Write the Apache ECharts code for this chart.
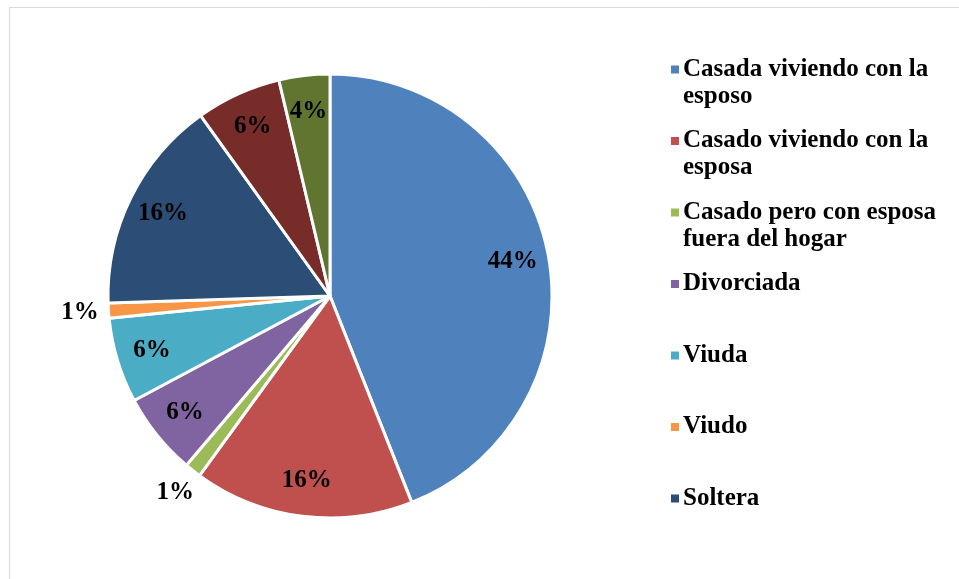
<!DOCTYPE html>
<html>
<head>
<meta charset="utf-8">
<script src="https://cdn.jsdelivr.net/npm/echarts@6/dist/echarts.min.js"></script>
<style>
html, body { margin: 0; padding: 0; background: #fff; }
#chart { width: 959px; height: 579px; }
</style>
</head>
<body>
<div id="chart"></div>
<script>
// categorias del grafico (las dos ultimas no salen en la leyenda)
var categorias = [
    'Casada viviendo con la esposo',
    'Casado viviendo con la esposa',
    'Casado pero con esposa fuera del hogar',
    'Divorciada',
    'Viuda',
    'Viudo',
    'Soltera',
    'Soltero',
    'Unión libre'
];
var valores = [44, 16, 1.2, 6, 6.2, 1.1, 15.6, 6.2, 3.7];
var colores = ['#4F81BD', '#C0504D', '#9BBB59', '#8064A2', '#4BACC6', '#F79646', '#2C4D75', '#772C2A', '#5F7530'];
// texto de la leyenda con sus saltos de linea
var leyenda = {
    'Casada viviendo con la esposo': 'Casada viviendo con la\nesposo',
    'Casado viviendo con la esposa': 'Casado viviendo con la\nesposa',
    'Casado pero con esposa fuera del hogar': 'Casado pero con esposa\nfuera del hogar',
    'Divorciada': 'Divorciada\n ',
    'Viuda': 'Viuda\n ',
    'Viudo': 'Viudo\n ',
    'Soltera': 'Soltera\n '
};

var fuente = 'Liberation Serif';
var centro = [330, 296];
var radio = 222;

function datos(mostrarChicos) {
    return categorias.map(function (c, i) {
        var chico = valores[i] < 2;
        return {
            name: c,
            value: valores[i],
            label: { show: mostrarChicos === null ? false : (mostrarChicos ? chico : !chico) }
        };
    });
}

var etiqueta = {
    position: 'inside',
    color: '#000',
    fontFamily: fuente,
    fontWeight: 'bold',
    fontSize: 25,
    formatter: function (p) {
        return Math.round(p.percent) + '%';
    }
};

var myChart = echarts.init(document.getElementById('chart'));
var options = {
    animation: false,
    color: colores,
    graphic: [{
        type: 'rect',
        shape: { x: 9.5, y: 7.5, width: 980, height: 620 },
        style: { fill: 'none', stroke: '#d9d9d9', lineWidth: 1 },
        silent: true
    }],
    legend: {
        orient: 'vertical',
        left: 666,
        top: 51,
        // cuadro arriba, con espacio vacio debajo para alinear con la primera linea
        icon: 'path://M0,0 L8,0 L8,8 L0,8 Z M0,35 L0,35',
        itemWidth: 8,
        itemHeight: 35,
        itemGap: 17.5,
        itemStyle: { borderWidth: 0 },
        data: categorias.slice(0, 7),
        selectedMode: false,
        formatter: function (name) {
            return leyenda[name];
        },
        textStyle: {
            color: '#000',
            fontFamily: fuente,
            fontWeight: 'bold',
            fontSize: 25,
            lineHeight: 27,
            padding: [0, 0, 0, -1]
        }
    },
    series: [
        {
            name: 'principal',
            type: 'pie',
            center: centro,
            radius: radio,
            startAngle: 90,
            clockwise: true,
            label: { show: false },
            labelLine: { show: false },
            itemStyle: { borderColor: '#fff', borderWidth: 3 },
            emphasis: { disabled: true },
            data: datos(null)
        },
        {
            // solo etiquetas de las porciones grandes
            name: 'etiquetas',
            type: 'pie',
            center: centro,
            radius: radio * 1.65,
            startAngle: 90,
            silent: true,
            legendHoverLink: false,
            itemStyle: { color: 'rgba(0,0,0,0)' },
            label: etiqueta,
            labelLine: { show: false },
            emphasis: { disabled: true },
            data: datos(false)
        },
        {
            // etiquetas de 1% fuera del circulo
            name: 'etiquetasChicas',
            type: 'pie',
            center: centro,
            radius: radio * 2.23,
            startAngle: 90,
            silent: true,
            legendHoverLink: false,
            itemStyle: { color: 'rgba(0,0,0,0)' },
            label: etiqueta,
            labelLine: { show: false },
            emphasis: { disabled: true },
            data: datos(true)
        }
    ]
};
myChart.setOption(options);
</script>
</body>
</html>
